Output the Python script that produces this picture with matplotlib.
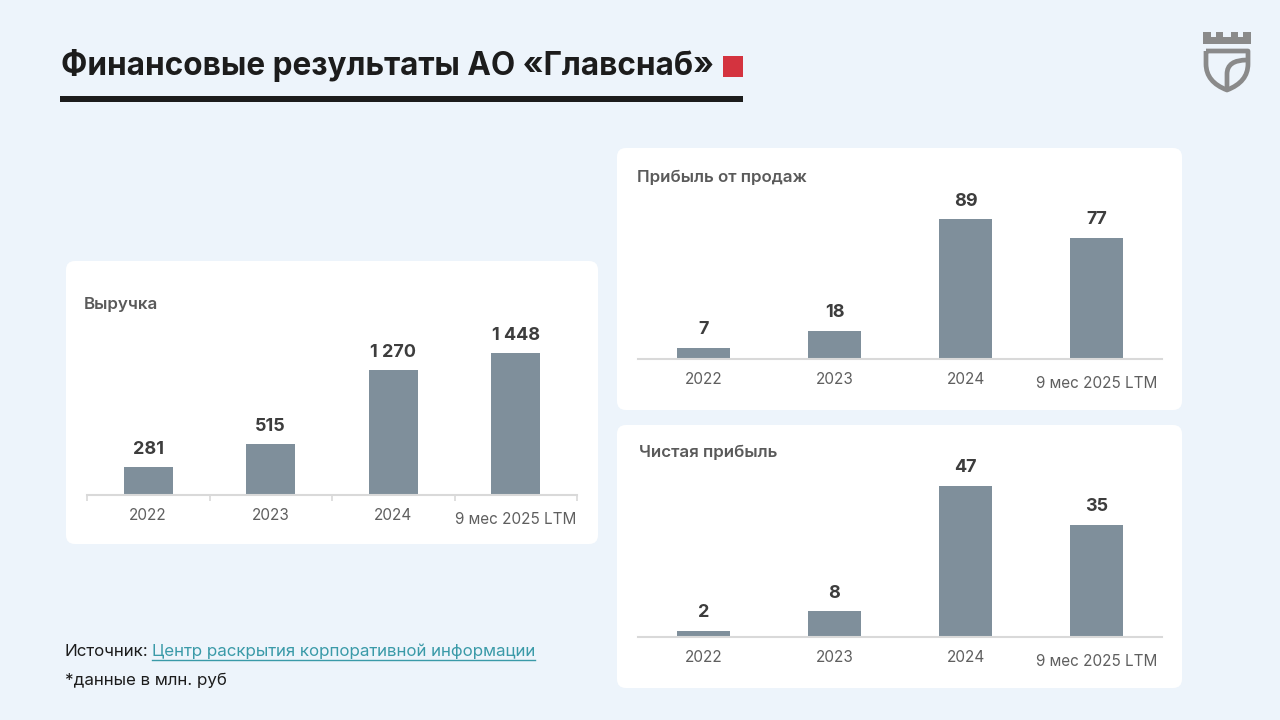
import matplotlib
matplotlib.use("Agg")
import matplotlib.pyplot as plt
from matplotlib.patches import FancyBboxPatch, Rectangle, PathPatch
from matplotlib.path import Path
from matplotlib.transforms import ScaledTranslation

plt.rcParams['font.family'] = ['Inter', 'DejaVu Sans']

# Data
categories = ['2022', '2023', '2024', '9 мес 2025 LTM']
revenue = [281, 515, 1270, 1448]
sales_profit = [7, 18, 89, 77]
net_profit = [2, 8, 47, 35]
value_labels_rev = ['281', '515', '1 270', '1 448']

W, H = 1280, 720
BG = '#edf4fb'
BAR = '#7f8f9b'

fig = plt.figure(figsize=(W / 100, H / 100), dpi=100, facecolor=BG)

# background layer in pixel coordinates (y down)
bg = fig.add_axes([0, 0, 1, 1], zorder=-1)
bg.set_xlim(0, W)
bg.set_ylim(H, 0)
bg.axis('off')

# panels
for (x0, y0, x1, y1) in [(66, 261, 598, 544), (617, 148, 1182, 410), (617, 425, 1182, 688)]:
    bg.add_patch(FancyBboxPatch((x0, y0), x1 - x0, y1 - y0,
                                boxstyle='round,pad=0,rounding_size=9',
                                fc='white', ec='none'))

# title
bg.text(61, 66, 'Финансовые результаты АО «Главснаб»', fontsize=22.7,
        fontweight='bold', color='#1c1c1c', va='center', ha='left')
bg.add_patch(Rectangle((723, 56), 20, 21, fc='#d4333f', ec='none'))
bg.add_patch(Rectangle((60, 96), 683, 6, fc='#1c1c1c', ec='none'))

# logo
LOGO = '#8a8a8a'
crown = [(1203, 44), (1203, 32), (1211, 32), (1211, 37), (1216, 37), (1216, 32),
         (1223, 32), (1223, 37), (1231, 37), (1231, 32), (1238, 32), (1238, 37),
         (1243, 37), (1243, 32), (1251, 32), (1251, 44), (1203, 44)]
bg.add_patch(PathPatch(Path(crown), fc=LOGO, ec='none'))
shield = Path([(1206, 51), (1248, 51), (1248, 64), (1248, 82), (1227, 90),
               (1206, 82), (1206, 64), (1206, 51)],
              [Path.MOVETO, Path.LINETO, Path.LINETO, Path.CURVE3, Path.CURVE3,
               Path.CURVE3, Path.CURVE3, Path.LINETO])
bg.add_patch(PathPatch(shield, fc='none', ec=LOGO, lw=3.4, joinstyle='round'))
inner = Path([(1227, 89), (1227, 74), (1227, 60), (1247, 60)],
             [Path.MOVETO, Path.LINETO, Path.CURVE3, Path.CURVE3])
bg.add_patch(PathPatch(inner, fc='none', ec=LOGO, lw=3.4))

# panel titles
ptitle = dict(fontsize=12.2, fontweight='semibold', color='#5a5a5a', va='center', ha='left')
bg.text(84, 305, 'Выручка', **ptitle)
bg.text(637, 177, 'Прибыль от продаж', **ptitle)
bg.text(639, 452, 'Чистая прибыль', **ptitle)

# footer
bg.text(65, 651, 'Источник:', fontsize=12.2, color='#1c1c1c', va='center', ha='left')
link = bg.text(152, 651, 'Центр раскрытия корпоративной информации', fontsize=12.2,
               color='#3a9aa8', va='center', ha='left')
bg.text(65, 680, '*данные в млн. руб', fontsize=12.2, color='#1c1c1c', va='center', ha='left')


def px_rect(x0, x1, y_base, h):
    return [x0 / W, 1 - y_base / H, (x1 - x0) / W, h / H]


def bar_panel(rect, values, labels, ytop, ticks_out):
    ax = fig.add_axes(rect)
    ax.patch.set_alpha(0)
    x = range(len(values))
    bars = ax.bar(x, values, width=0.4, color=BAR, zorder=2)
    ax.set_xlim(-0.5, len(values) - 0.5)
    ax.set_ylim(0, ytop)
    for b, lab in zip(bars, labels):
        ax.annotate(lab, (b.get_x() + b.get_width() / 2, b.get_height()),
                    xytext=(0, 18), textcoords='offset pixels', ha='center', va='center',
                    fontsize=13, fontweight='bold', color='#3d3d3d')
    for s in ['top', 'right', 'left']:
        ax.spines[s].set_visible(False)
    ax.spines['bottom'].set_color('#d9d9d9')
    ax.spines['bottom'].set_linewidth(1.5)
    ax.set_yticks([])
    ax.set_xticks(list(x))
    ax.set_xticklabels(categories, fontsize=11, color='#5f5f5f')
    ax.tick_params(axis='x', length=0, pad=9)
    if ticks_out:
        ax.set_xticks([i - 0.5 for i in range(len(values) + 1)], minor=True)
        ax.tick_params(axis='x', which='minor', length=4, width=1.2, color='#d9d9d9')
    last = ax.get_xticklabels()[-1]
    last.set_transform(last.get_transform() + ScaledTranslation(0, -0.04, fig.dpi_scale_trans))
    return ax


bar_panel(px_rect(87, 577, 495, 200), revenue, value_labels_rev, 1448 * 200 / 142, True)
bar_panel(px_rect(638, 1162, 359, 180), sales_profit, [str(v) for v in sales_profit],
          89 * 180 / 140, False)
bar_panel(px_rect(638, 1162, 637, 180), net_profit, [str(v) for v in net_profit],
          47 * 180 / 151, False)

# underline for the link
fig.canvas.draw()
bb = link.get_window_extent().transformed(bg.transData.inverted())
bg.plot([bb.x0, bb.x1], [660, 660], color='#3a9aa8', lw=1)

fig.savefig('out.png', dpi=100, facecolor=BG)
